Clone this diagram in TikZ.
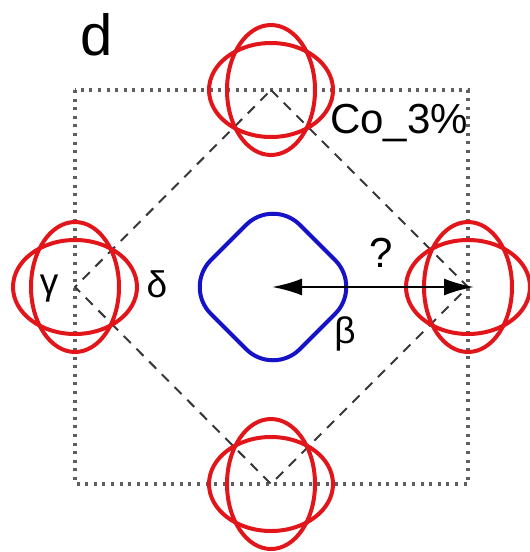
\documentclass[tikz,border=0pt]{standalone}
\usepackage{fontspec}
\setmainfont{Liberation Sans}
\usetikzlibrary{arrows.meta}
\definecolor{pocketred}{RGB}{226,22,26}
\definecolor{pocketblue}{RGB}{22,18,200}
\definecolor{linegray}{RGB}{55,55,55}
\tikzset{
  bz/.style={dash pattern=on 3pt off 5.6pt, line width=3.2pt, draw=linegray!80},
  diam/.style={dash pattern=on 10pt off 8pt, line width=2pt, draw=linegray},
  redpocket/.style={draw=pocketred, line width=4pt},
  betapocket/.style={draw=pocketblue, line width=4pt, rounded corners=38pt},
  arr/.style={line width=2.6pt, {Latex[length=30pt,width=17pt]}-{Latex[length=30pt,width=17pt]}},
  lbl/.style={inner sep=0pt, outer sep=0pt, font=\fontsize{42}{48}\selectfont},
  glbl/.style={inner sep=0pt, outer sep=0pt, font=\fontsize{37}{44}\selectfont}
}
\newcommand{\pocketpair}[1]{%
  \draw[redpocket] (#1) ellipse [x radius=62pt, y radius=47pt];
  \draw[redpocket] (#1) ellipse [x radius=44pt, y radius=65pt];
}
\begin{document}
\begin{tikzpicture}[x=1pt,y=-1pt]
\useasboundingbox (0,0) rectangle (530,552);
% Brillouin zone corners / pocket centres
\coordinate (T) at (271,90);
\coordinate (B) at (271,484);
\coordinate (L) at (75,287);
\coordinate (R) at (468,287);
\coordinate (G) at (272,287);
\coordinate (Rtip) at (474,287);
\coordinate (TL) at (75,90);
\coordinate (BR) at (468,484);
% dotted zone boundary
\draw[bz] (TL) rectangle (BR);
% dashed diamond
\draw[diam] (T) -- (R) -- (B) -- (L) -- cycle;
% electron pockets
\pocketpair{T}
\pocketpair{B}
\pocketpair{L}
\pocketpair{R}
% hole pocket beta
\draw[betapocket] (273,198) -- (362,287) -- (273,376) -- (184,287) -- cycle;
% nesting arrow
\draw[arr] (G) -- (Rtip);
% labels
\node[inner sep=0pt, anchor=base west, font=\fontsize{58}{64}\selectfont] (dlab) at (80,55) {d};
\node[lbl, anchor=base west] (co) at (330,133) {Co\_3\%};
\node[lbl, anchor=base] (q) at (381,267) {?};
\node[glbl, anchor=base] (gam) at (49,294) {γ};
\node[glbl, anchor=base] (del) at (157,297) {δ};
\node[glbl, anchor=base] (bet) at (345,343) {β};
\end{tikzpicture}
\end{document}
